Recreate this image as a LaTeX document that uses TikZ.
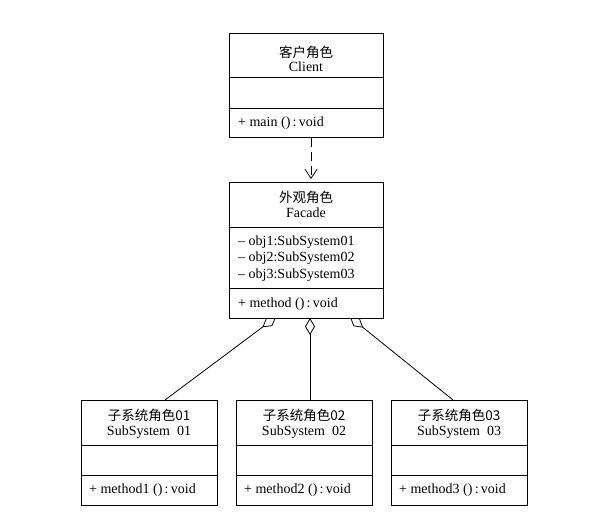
\documentclass[tikz,border=0pt]{standalone}
\usepackage{fontspec}
\setmainfont{Liberation Serif}
\newfontfamily\cjk{Noto Sans CJK SC}
\usetikzlibrary{arrows.meta,backgrounds}
\tikzset{
  classbox/.style={draw, line width=0.8pt, fill=white, inner sep=0pt, anchor=north west},
  sep/.style={line width=0.8pt},
  cn/.style={font=\cjk\fontsize{13.5}{15}\selectfont, inner sep=0pt},
  en/.style={font=\fontsize{14}{16}\selectfont, inner sep=0pt},
  lt/.style={font=\fontsize{14}{16}\selectfont, inner sep=0pt, anchor=west},
  conn/.style={line width=0.8pt},
  agg/.style={conn, {Diamond[open,length=17pt,width=10pt,line width=0.8pt]}-},
}
\begin{document}
\begin{tikzpicture}[x=1pt,y=-1pt]
\useasboundingbox (0,0) rectangle (593,511);
% Client
\node[classbox, minimum width=154pt, minimum height=104pt] (client) at (229,33) {};
\draw[sep] (229,77) -- (383,77);
\draw[sep] (229,108) -- (383,108);
\node[cn] (clientcn) at (306,52) {客户角色};
\node[en] (clienten) at (306,67) {Client};
\node[lt] (clientm) at (238,123) {+ main ()\,:\,void};
% Facade
\node[classbox, minimum width=154pt, minimum height=136pt] (facade) at (229,182) {};
\draw[sep] (229,227) -- (383,227);
\draw[sep] (229,288) -- (383,288);
\node[cn] (facadecn) at (306,197) {外观角色};
\node[en] (facadeen) at (306,213) {Facade};
\node[lt] (fa1) at (238,242) {– obj1:SubSystem01};
\node[lt] (fa2) at (238,258) {– obj2:SubSystem02};
\node[lt] (fa3) at (238,275) {– obj3:SubSystem03};
\node[lt] (facadem) at (238,304) {+ method ()\,:\,void};
% Subsystems
\foreach \n/\x in {1/81,2/236,3/391}{
  \node[classbox, minimum width=136pt, minimum height=105pt] (sub\n) at (\x,400) {};
  \draw[sep] (\x,445) -- ({\x+136},445);
  \draw[sep] (\x,475) -- ({\x+136},475);
  \node[cn] (sub\n cn) at ({\x+68},415) {子系统角色0\n};
  \node[en] (sub\n en) at ({\x+68},432) {SubSystem\ \ 0\n};
  \node[lt] (sub\n m) at ({\x+8},490) {+ method\n\ ()\,:\,void};
}
% connector endpoints
\coordinate (carrow) at (311,179);
\coordinate (d1) at (276,317);
\coordinate (d2) at (310,318);
\coordinate (d3) at (350,317);
\coordinate (e1) at (165,400);
\coordinate (e2) at (310,400);
\coordinate (e3) at (453,400);
\begin{scope}[on background layer]
\draw[conn, dash pattern=on 9pt off 5pt, -{Straight Barb[length=9pt,width=12pt,line width=0.8pt]}] (client.south -| carrow) -- (carrow);
\draw[agg] (d1) -- (e1);
\draw[agg] (d2) -- (e2);
\draw[agg] (d3) -- (e3);
\end{scope}
\end{tikzpicture}
\end{document}
